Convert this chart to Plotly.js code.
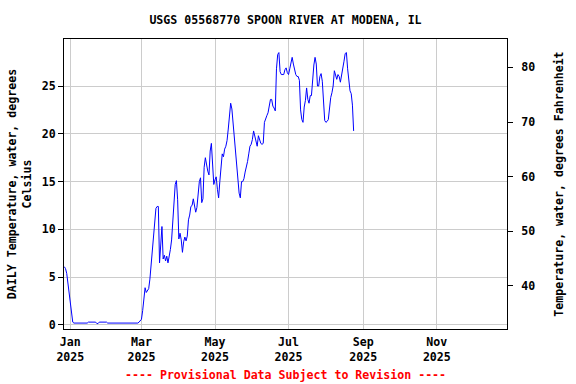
<!DOCTYPE html>
<html><head><meta charset="utf-8">
<script src="https://cdn.plot.ly/plotly-3.0.1.min.js"></script>
<style>html,body{margin:0;padding:0;background:#fff}#chart{width:576px;height:384px}</style>
</head><body><div id="chart"></div>
<script>
// Daily water temperature (deg C), starting 2024-12-27
const startYear = 2024, startMonth = 11, startDay = 27;
const dec2024 = [6.1,5.9,5.4,4.4,3.2];
const jan2025 = [2.0,0.8,0.3,0.2,0.2,0.2,0.2,0.2,0.2,0.2,0.2,0.2,0.2,0.2,0.2,0.3,0.3,0.3,0.3,0.3,0.3,0.3,0.15,0.15,0.3,0.3,0.3,0.3,0.3,0.3,0.3];
const feb2025 = [0.2,0.2,0.2,0.2,0.2,0.2,0.2,0.2,0.2,0.2,0.2,0.2,0.2,0.2,0.2,0.2,0.2,0.2,0.2,0.2,0.2,0.2,0.2,0.2,0.2,0.2,0.3,0.45];
const mar2025 = [0.6,1.5,3.2,3.9,3.4,3.6,3.8,4.8,6.2,7.6,8.9,10.5,12.2,12.4,12.4,6.5,8.2,10.3,6.9,7.3,6.7,7.2,6.5,7.1,7.9,8.9,11.0,13.4,14.7,15.1,13.1];
const apr2025 = [9.0,9.6,8.9,7.6,8.7,9.2,8.8,9.3,11.0,11.5,12.4,12.5,13.2,12.6,11.8,12.3,13.5,15.0,15.4,12.8,13.2,16.5,17.5,16.6,16.1,15.7,18.2,19.0,17.0,14.7];
const may2025 = [15.2,15.5,14.2,13.3,15.0,16.5,17.9,17.6,18.4,18.7,19.3,20.5,22.2,23.2,22.6,21.2,19.5,17.9,16.3,14.7,13.8,13.3,15.0,15.0,15.3,16.0,16.5,17.1,17.9,18.7,18.9];
const jun2025 = [19.4,20.3,19.7,19.2,18.7,19.8,19.4,19.0,18.9,19.0,21.2,21.7,21.9,22.2,22.8,23.6,23.6,22.9,22.7,22.4,26.8,28.3,28.5,26.5,26.2,26.2,26.2,26.7,26.9,26.4];
const jul2025 = [26.2,26.8,27.5,28.0,27.3,26.6,26.2,26.0,26.0,25.6,22.5,21.5,21.2,22.8,23.5,24.8,23.6,23.2,24.0,24.0,25.8,27.2,28.0,27.3,25.0,25.0,26.0,26.3,25.5,23.0,21.4];
const aug2025 = [21.2,21.3,21.5,22.7,23.8,24.3,25.0,26.6,26.0,25.7,26.2,26.0,25.4,26.3,26.9,27.6,28.4,28.5,26.8,25.3,24.5,24.2,23.0,20.3];

const xTickVals = ['2025-01-01','2025-03-01','2025-05-01','2025-07-01','2025-09-01','2025-11-01'];
const xTickText = ['Jan<br>2025','Mar<br>2025','May<br>2025','Jul<br>2025','Sep<br>2025','Nov<br>2025'];
const yTickVals = [0,5,10,15,20,25];
const y2TickVals = [40,50,60,70,80];

const tempC = [].concat(dec2024, jan2025, feb2025, mar2025, apr2025, may2025, jun2025, jul2025, aug2025);
const dates = tempC.map((_, i) => new Date(Date.UTC(startYear, startMonth, startDay + i)).toISOString().slice(0,10));
const tempF = tempC.map(c => c * 9 / 5 + 32);

const fam = 'DejaVu Sans Mono, monospace';
const f = {family: fam, size: 11.6, color: '#000', weight: 'bold'};

const traces = [
  {x: dates, y: tempC, type: 'scatter', mode: 'lines', line: {color: '#0000ff', width: 1}, hoverinfo: 'skip', showlegend: false},
  {x: dates, y: tempF, yaxis: 'y2', type: 'scatter', mode: 'lines', line: {color: 'rgba(0,0,0,0)', width: 0}, hoverinfo: 'skip', showlegend: false}
];

const layout = {
  width: 576, height: 384,
  margin: {l: 64, r: 69, t: 39, b: 55},
  paper_bgcolor: '#fff', plot_bgcolor: '#fff',
  showlegend: false,
  font: f,
  title: {text: 'USGS 05568770 SPOON RIVER AT MODENA, IL', font: f, x: 0.5, xref: 'paper', xanchor: 'center', y: 1 - 20/384, yref: 'container', yanchor: 'middle'},
  xaxis: {
    type: 'date', range: ['2024-12-26 18:00', '2025-12-29 05:00'],
    tickvals: xTickVals, ticktext: xTickText, tickfont: f, ticklabelstandoff: 2,
    showgrid: true, gridcolor: '#cccccc', gridwidth: 1,
    showline: true, linecolor: '#000', linewidth: 1, mirror: true,
    ticks: '', zeroline: false, fixedrange: true
  },
  yaxis: {
    range: [-0.42, 29.92], tickvals: yTickVals, tickfont: f,
    showgrid: true, gridcolor: '#cccccc', gridwidth: 1,
    showline: true, linecolor: '#000', linewidth: 1, mirror: true,
    ticks: 'outside', ticklen: 5, tickcolor: '#000', zeroline: false,
    title: {text: 'DAILY Temperature, water, degrees<br>Celsius', font: f, standoff: 7}
  },
  yaxis2: {
    overlaying: 'y', side: 'right', range: [32.12, 85.2], tickvals: y2TickVals, tickfont: f,
    showgrid: false, showline: false, ticks: 'outside', ticklen: 5, tickcolor: '#000', ticklabelstandoff: 6,
    zeroline: false,
    title: {text: 'Temperature, water, degrees Fahrenheit', font: f, standoff: 20}
  },
  annotations: [{
    text: '---- Provisional Data Subject to Revision ----', xref: 'paper', yref: 'paper',
    x: 0.5, y: -(375 - 329) / 290, xanchor: 'center', yanchor: 'middle', showarrow: false,
    font: {family: fam, size: 11.6, color: '#ff0000', weight: 'bold'}
  }]
};

Plotly.newPlot('chart', traces, layout, {displayModeBar: false, staticPlot: true});
</script></body></html>
